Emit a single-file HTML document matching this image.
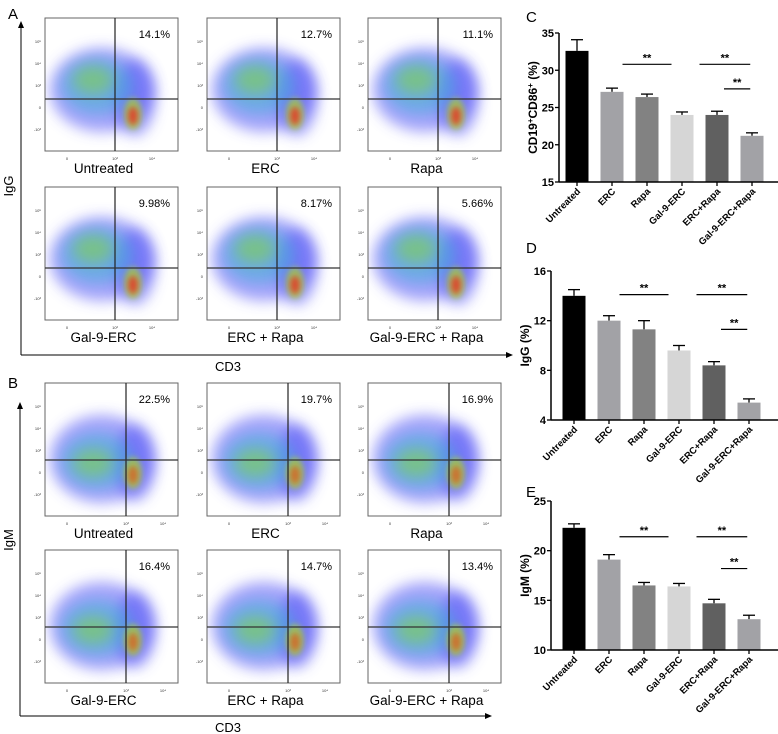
<!DOCTYPE html>
<html><head><meta charset="utf-8"><style>
html,body{margin:0;padding:0;background:#fff;}
svg{display:block;font-family:"Liberation Sans",sans-serif;}
</style></head><body>
<svg id="s" width="778" height="734" viewBox="0 0 778 734" xmlns="http://www.w3.org/2000/svg">
<defs>
<filter id="bl" x="-50%" y="-50%" width="200%" height="200%"><feGaussianBlur stdDeviation="7"/></filter>
<filter id="bl2" x="-50%" y="-50%" width="200%" height="200%"><feGaussianBlur stdDeviation="3"/></filter>
<marker id="ar" markerWidth="8" markerHeight="8" refX="6" refY="3" orient="auto"><path d="M0,0 L7,3 L0,6 z" fill="#000"/></marker>
</defs>
<g id="flow"></g>
<g id="bars"></g>
<text x="8" y="19" font-size="15">A</text>
<text x="8" y="388" font-size="15">B</text>
<text x="526" y="22" font-size="15">C</text>
<text x="526" y="253" font-size="15">D</text>
<text x="526" y="497" font-size="15">E</text>
</svg>
<script>
const NS='http://www.w3.org/2000/svg';
function mk(p,t,a,txt){const e=document.createElementNS(NS,t);for(const k in a)e.setAttribute(k,a[k]);if(txt!==undefined)e.textContent=txt;p.appendChild(e);return e;}

// ---- flow data ----
const aLabels=['Untreated','ERC','Rapa','Gal-9-ERC','ERC + Rapa','Gal-9-ERC + Rapa'];
const aPercents=['14.1%','12.7%','11.1%','9.98%','8.17%','5.66%'];
const bLabels=['Untreated','ERC','Rapa','Gal-9-ERC','ERC + Rapa','Gal-9-ERC + Rapa'];
const bPercents=['22.5%','19.7%','16.9%','16.4%','14.7%','13.4%'];
const colX=[45,207,368];
const flowG=document.getElementById('flow');

function flowPlot(x,y,pct,label,qx,qy,variant,hot){
  const g=mk(flowG,'g',{});
  
  
  const W=133,H=133;
  const cp='cp'+x+'_'+y;
  mk(mk(g,'clipPath',{id:cp}),'rect',{x:x,y:y,width:W,height:H});
  const d=mk(g,'g',{'clip-path':'url(#'+cp+')'});
  mk(d,'ellipse',{cx:x+57,cy:y+(variant?76:72),rx:52,ry:variant?44:42,fill:'#4a4af5',opacity:0.5,filter:'url(#bl)'});
  mk(d,'ellipse',{cx:x+90,cy:y+(variant?80:80),rx:20,ry:38,fill:'#4a4af5',opacity:0.5,filter:'url(#bl)'});
  mk(d,'ellipse',{cx:x+52,cy:y+(variant?78:68),rx:36,ry:28,fill:'#40b0d8',opacity:0.55,filter:'url(#bl)'});
  mk(d,'ellipse',{cx:x+48,cy:y+(variant?80:62),rx:20,ry:14,fill:'#80d050',opacity:0.6,filter:'url(#bl)'});
  mk(d,'ellipse',{cx:x+88,cy:y+(variant?90:96),rx:9,ry:16,fill:'#a8d038',opacity:0.75,filter:'url(#bl2)'});
  mk(d,'ellipse',{cx:x+88,cy:y+(variant?92:98),rx:5,ry:9,fill:hot,opacity:0.8,filter:'url(#bl2)'});
  mk(g,'rect',{x:x,y:y,width:W,height:H,fill:'none',stroke:'#666','stroke-width':1});
  mk(g,'line',{x1:x+qx,y1:y,x2:x+qx,y2:y+H,stroke:'#222','stroke-width':1.2});
  mk(g,'line',{x1:x,y1:y+qy,x2:x+W,y2:y+qy,stroke:'#333','stroke-width':1.2});
  const p=mk(g,'text',{x:x+W-8,y:y+20,'font-size':11,'text-anchor':'end'},pct);
  
  
  const yt=['10⁵','10⁴','10³','0','-10³'];
  yt.forEach((t,i)=>mk(g,'text',{x:x-4,y:y+25+i*22,'font-size':4,'text-anchor':'end',fill:'#333'},t));
  [['0',22],['10³',qx],['10⁴',qx+37]].forEach(a=>mk(g,'text',{x:x+a[1],y:y+H+9,'font-size':4,'text-anchor':'middle',fill:'#333'},a[0]));
  const l=mk(g,'text',{x:x+W/2-8,y:y+H+22,'font-size':13.5,'text-anchor':'middle'},label);
  
  
}
for(let i=0;i<6;i++){
  const r=Math.floor(i/3),cIdx=i%3;
  flowPlot(colX[cIdx],18+r*169,aPercents[i],aLabels[i],70,81,false,'#e83020');
  flowPlot(colX[cIdx],383+r*167,bPercents[i],bLabels[i],81,77,true,'#d86020');
}
mk(flowG,'line',{x1:21,y1:355,x2:21,y2:22,stroke:'#000','stroke-width':1,'marker-end':'url(#ar)'});
mk(flowG,'line',{x1:21,y1:355,x2:512,y2:355,stroke:'#000','stroke-width':1,'marker-end':'url(#ar)'});
mk(flowG,'line',{x1:20,y1:716,x2:20,y2:403,stroke:'#000','stroke-width':1,'marker-end':'url(#ar)'});
mk(flowG,'line',{x1:20,y1:716,x2:491,y2:716,stroke:'#000','stroke-width':1,'marker-end':'url(#ar)'});
let t=mk(flowG,'text',{x:0,y:0,'font-size':13,'text-anchor':'middle',transform:'translate(13,186) rotate(-90)'},'IgG');

t=mk(flowG,'text',{x:0,y:0,'font-size':13,'text-anchor':'middle',transform:'translate(13,540) rotate(-90)'},'IgM');

t=mk(flowG,'text',{x:228,y:371,'font-size':13,'text-anchor':'middle'},'CD3');

t=mk(flowG,'text',{x:228,y:732,'font-size':13,'text-anchor':'middle'},'CD3');


// ---- bar chart data ----
const categories=['Untreated','ERC','Rapa','Gal-9-ERC','ERC+Rapa','Gal-9-ERC+Rapa'];
const barColors=['#000000','#a2a2a6','#828282','#d6d6d6','#606060','#a2a2a6'];
const cValues=[32.6,27.1,26.4,24.0,24.0,21.2];
const cErrors=[1.5,0.5,0.4,0.4,0.5,0.4];
const cTicks=[15,20,25,30,35];
const cSigY=[30.8,30.8,27.5];
const dValues=[14.0,12.0,11.3,9.6,8.4,5.4];
const dErrors=[0.5,0.4,0.7,0.4,0.3,0.3];
const dTicks=[4,8,12,16];
const dSigY=[14.1,14.1,11.3];
const eValues=[22.3,19.1,16.5,16.4,14.7,13.1];
const eErrors=[0.4,0.5,0.3,0.3,0.4,0.4];
const eTicks=[10,15,20,25];
const eSigY=[21.4,21.4,18.2];
const sigFrom=[1.3,3.5,4.2];
const sigTo=[2.7,4.95,4.95];

const barsG=document.getElementById('bars');
function barChart(o){
  const g=mk(barsG,'g',{});
  
  
  const ys=v=>o.yBot-(v-o.min)/(o.max-o.min)*(o.yBot-o.yTop);
  const xs=i=>o.x0+i*35;
  const bw=23;
  o.values.forEach((v,i)=>{
    const cx=xs(i),top=ys(v+o.errors[i]);
    mk(g,'line',{x1:cx,y1:ys(v),x2:cx,y2:top,stroke:'#000','stroke-width':1.3});
    mk(g,'line',{x1:cx-6,y1:top,x2:cx+6,y2:top,stroke:'#000','stroke-width':1.3});
    const r=mk(g,'rect',{x:cx-bw/2,y:ys(v),width:bw,height:o.yBot-ys(v),fill:barColors[i]});
    
    
    mk(g,'line',{x1:cx,y1:o.yBot,x2:cx,y2:o.yBot+4,stroke:'#000','stroke-width':1.3});
    const lb=mk(g,'text',{x:0,y:0,'font-size':9.5,'font-weight':'bold','text-anchor':'end',transform:'translate('+(cx+4)+','+(o.yBot+10)+') rotate(-45)'},categories[i]);
    
    
  });
  mk(g,'line',{x1:o.ax,y1:o.yTop,x2:o.ax,y2:o.yBot,stroke:'#000','stroke-width':1.5});
  mk(g,'line',{x1:o.ax,y1:o.yBot,x2:778,y2:o.yBot,stroke:'#000','stroke-width':1.5});
  o.ticks.forEach(tk=>{
    mk(g,'line',{x1:o.ax-4,y1:ys(tk),x2:o.ax,y2:ys(tk),stroke:'#000','stroke-width':1.3});
    const tl=mk(g,'text',{x:o.ax-5,y:ys(tk)+4,'font-size':11,'font-weight':'bold','text-anchor':'end'},String(tk));
    
    
  });
  o.sigY.forEach((sv,k)=>{
    const x1=xs(sigFrom[k]),x2=xs(sigTo[k]),yy=ys(sv);
    const ln=mk(g,'line',{x1:x1,y1:yy,x2:x2,y2:yy,stroke:'#000','stroke-width':1.2});
    
    
    const st=mk(g,'text',{x:(x1+x2)/2,y:yy-3,'font-size':11,'font-weight':'bold','text-anchor':'middle'},'**');
    
    
  });
  const yt=mk(g,'text',{x:0,y:0,'font-size':12,'font-weight':'bold','text-anchor':'middle',transform:'translate('+o.titleX+','+((o.yTop+o.yBot)/2)+') rotate(-90)'});
  yt.innerHTML=o.title;
  
  
}
barChart({name:'chart-c-cd19-cd86',ax:559,yTop:33,yBot:182,min:15,max:35,x0:577,values:cValues,errors:cErrors,ticks:cTicks,sigY:cSigY,titleX:537,title:'CD19<tspan dy="-4" font-size="8">+</tspan><tspan dy="4">CD86</tspan><tspan dy="-4" font-size="8">+</tspan><tspan dy="4"> (%)</tspan>'});
barChart({name:'chart-d-igg',ax:551,yTop:271,yBot:420,min:4,max:16,x0:574,values:dValues,errors:dErrors,ticks:dTicks,sigY:dSigY,titleX:529,title:'IgG (%)'});
barChart({name:'chart-e-igm',ax:551,yTop:501,yBot:650,min:10,max:25,x0:574,values:eValues,errors:eErrors,ticks:eTicks,sigY:eSigY,titleX:529,title:'IgM (%)'});
</script>
</body></html>
